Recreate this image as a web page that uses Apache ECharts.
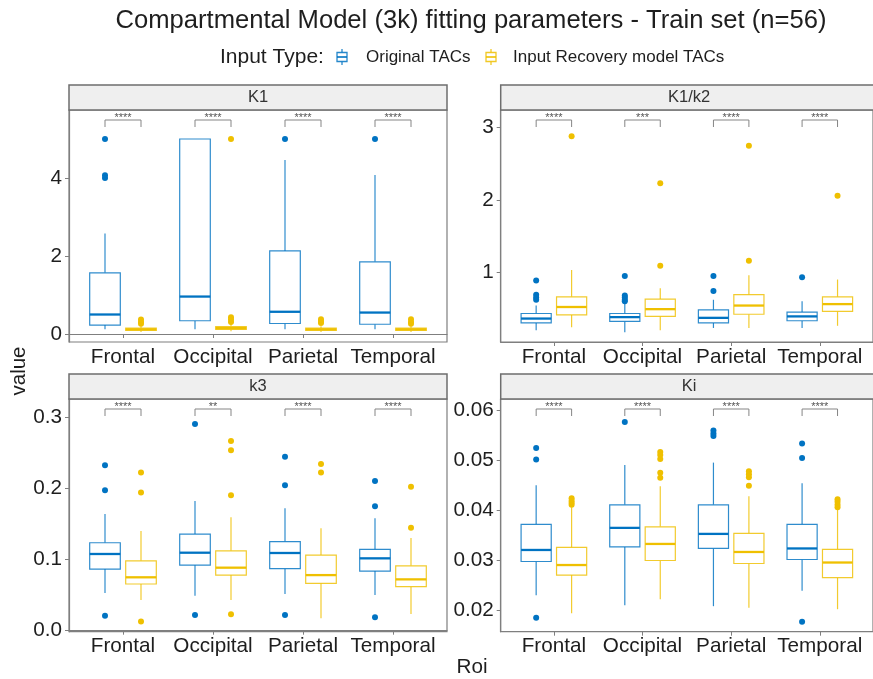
<!DOCTYPE html>
<html>
<head>
<meta charset="utf-8">
<title>Compartmental Model (3k) fitting parameters</title>
<script src="https://cdn.jsdelivr.net/npm/echarts@6.0.0/dist/echarts.min.js"></script>
<style>
  html, body { margin: 0; padding: 0; background: #ffffff; }
  #chart { width: 873px; height: 679px; }
</style>
</head>
<body>
<div id="chart"></div>
<script>
// ---- Data -------------------------------------------------------------
const rois = ['Frontal', 'Occipital', 'Parietal', 'Temporal'];
const groups = ['Original TACs', 'Input Recovery model TACs'];

// Five-number summaries per ROI: [lower whisker, Q1, median, Q3, upper whisker]
const k1Original = [[0.12, 0.23, 0.50, 1.57, 2.58], [0.12, 0.34, 0.96, 5.00, 5.00], [0.12, 0.27, 0.57, 2.13, 4.46], [0.12, 0.25, 0.55, 1.85, 4.08]];
const k1Recovery = [[0.05, 0.09, 0.12, 0.15, 0.20], [0.07, 0.12, 0.15, 0.19, 0.27], [0.05, 0.09, 0.12, 0.15, 0.20], [0.05, 0.09, 0.12, 0.15, 0.20]];
const k1OriginalOutliers = [[5.00, 4.07, 4.00], [], [5.00], [5.00]];
const k1RecoveryOutliers = [[0.37, 0.31, 0.26], [5.00, 0.43, 0.37, 0.31], [0.38, 0.33, 0.28], [0.38, 0.31, 0.26]];
const k1Sig = ['****', '****', '****', '****'];
const k1Ticks = [0, 2, 4];

const ratioOriginal = [[0.20, 0.30, 0.36, 0.43, 0.54], [0.17, 0.32, 0.38, 0.43, 0.58], [0.23, 0.30, 0.37, 0.48, 0.62], [0.23, 0.33, 0.39, 0.45, 0.60]];
const ratioRecovery = [[0.24, 0.41, 0.52, 0.66, 1.03], [0.20, 0.39, 0.49, 0.63, 0.78], [0.23, 0.42, 0.54, 0.69, 0.96], [0.26, 0.46, 0.56, 0.66, 0.90]];
const ratioOriginalOutliers = [[0.885, 0.69, 0.65, 0.62], [0.95, 0.68, 0.65, 0.62, 0.60], [0.95, 0.74], [0.93]];
const ratioRecoveryOutliers = [[2.88], [2.23, 1.09], [2.75, 1.16], [2.06]];
const ratioSig = ['****', '***', '****', '****'];
const ratioTicks = [1, 2, 3];

const k3Original = [[0.053, 0.0865, 0.1076, 0.1234, 0.1637], [0.049, 0.092, 0.1094, 0.1356, 0.182], [0.0515, 0.087, 0.109, 0.125, 0.1716], [0.050, 0.0837, 0.1015, 0.114, 0.1576]];
const k3Recovery = [[0.043, 0.0655, 0.0749, 0.098, 0.140], [0.043, 0.078, 0.0884, 0.112, 0.159], [0.0174, 0.0665, 0.078, 0.106, 0.1436], [0.0234, 0.0617, 0.072, 0.091, 0.130]];
const k3OriginalOutliers = [[0.232, 0.197, 0.021], [0.290, 0.022], [0.244, 0.204, 0.022], [0.210, 0.1745, 0.019]];
const k3RecoveryOutliers = [[0.222, 0.194, 0.013], [0.266, 0.253, 0.190, 0.023], [0.234, 0.222], [0.202, 0.1445]];
const k3Sig = ['****', '**', '****', '****'];
const k3Ticks = [0, 0.1, 0.2, 0.3];

const kiOriginal = [[0.0231, 0.0298, 0.0321, 0.0372, 0.0450], [0.0211, 0.0327, 0.0365, 0.0411, 0.0490], [0.0209, 0.0324, 0.0353, 0.0411, 0.0495], [0.0240, 0.0302, 0.0324, 0.0372, 0.0454]];
const kiRecovery = [[0.0195, 0.0271, 0.0291, 0.0326, 0.0406], [0.0223, 0.0300, 0.0333, 0.0367, 0.0448], [0.0206, 0.0294, 0.0317, 0.0354, 0.0428], [0.0203, 0.0266, 0.0296, 0.0322, 0.0407]];
const kiOriginalOutliers = [[0.0524, 0.0501, 0.0186], [0.0576], [0.0559, 0.0553, 0.0548], [0.0533, 0.0504, 0.0178]];
const kiRecoveryOutliers = [[0.0424, 0.0419, 0.0415, 0.0411], [0.0516, 0.0510, 0.0502, 0.0475, 0.0465], [0.0478, 0.0472, 0.0466, 0.0449], [0.0422, 0.0417, 0.0411, 0.0406]];
const kiSig = ['****', '****', '****', '****'];
const kiTicks = [0.02, 0.03, 0.04, 0.05, 0.06];

// ---- Styling / layout -------------------------------------------------
const FONT = '"Liberation Sans", Arial, Helvetica, sans-serif';
const COLORS = ['#0073C2', '#EFC000'];
const TEXT = '#1e1e1e';
const FRAME = '#7f7f7f';
const DODGE = 0.2;      // horizontal offset of each group from the ROI position
const BOX_HALF = 0.17;  // half box width in ROI units
const STRIP_H = 25;

const panels = [
  { label: 'K1',    orig: k1Original, rec: k1Recovery, origOut: k1OriginalOutliers, recOut: k1RecoveryOutliers, sig: k1Sig, ticks: k1Ticks, min: -0.205, max: 5.744, digits: 0,
    box: { left: 69, top: 110, width: 378, height: 232 } },
  { label: 'K1/k2', orig: ratioOriginal, rec: ratioRecovery, origOut: ratioOriginalOutliers, recOut: ratioRecoveryOutliers, sig: ratioSig, ticks: ratioTicks, min: 0.036, max: 3.244, digits: 0,
    box: { left: 500.7, top: 110, width: 377, height: 232 } },
  { label: 'k3',    orig: k3Original, rec: k3Recovery, origOut: k3OriginalOutliers, recOut: k3RecoveryOutliers, sig: k3Sig, ticks: k3Ticks, min: -0.0014, max: 0.325, digits: 1,
    box: { left: 69, top: 399, width: 378, height: 232.7 } },
  { label: 'Ki',    orig: kiOriginal, rec: kiRecovery, origOut: kiOriginalOutliers, recOut: kiRecoveryOutliers, sig: kiSig, ticks: kiTicks, min: 0.01582, max: 0.06217, digits: 2,
    box: { left: 500.7, top: 399, width: 377, height: 232.7 } }
];

// ---- Renderers ----------------------------------------------------------
function boxRenderer(color) {
  return function (params, api) {
    const x = api.value(0);
    const lo = api.coord([x, api.value(1)]);
    const q1 = api.coord([x, api.value(2)]);
    const md = api.coord([x, api.value(3)]);
    const q3 = api.coord([x, api.value(4)]);
    const hi = api.coord([x, api.value(5)]);
    const hw = api.size([BOX_HALF, 0])[0];
    const cx = md[0];
    const thin = { stroke: color, lineWidth: 1.2, fill: null, opacity: 0.82 };
    return {
      type: 'group',
      children: [
        { type: 'line', shape: { x1: cx, y1: hi[1], x2: cx, y2: q3[1] }, style: thin },
        { type: 'line', shape: { x1: cx, y1: q1[1], x2: cx, y2: lo[1] }, style: thin },
        { type: 'rect', shape: { x: cx - hw, y: q3[1], width: 2 * hw, height: q1[1] - q3[1] },
          style: { fill: '#ffffff', stroke: color, lineWidth: 1.2, strokeOpacity: 0.82 } },
        { type: 'line', shape: { x1: cx - hw, y1: md[1], x2: cx + hw, y2: md[1] },
          style: { stroke: color, lineWidth: 2.3 } }
      ]
    };
  };
}

function bracketRenderer(sig) {
  return function (params, api) {
    const c = api.value(0);
    const a = api.coord([c - DODGE, api.value(1)]);
    const b = api.coord([c + DODGE, api.value(1)]);
    const top = params.coordSys.y + 10;
    return {
      type: 'group',
      children: [
        { type: 'polyline', shape: { points: [[a[0], top + 7], [a[0], top], [b[0], top], [b[0], top + 7]] },
          style: { stroke: '#858585', lineWidth: 1, fill: null } },
        { type: 'text', x: (a[0] + b[0]) / 2, y: top - 2.5,
          style: { text: sig[params.dataIndex], fontSize: 11, fontFamily: FONT, fill: '#555555',
                   align: 'center', verticalAlign: 'middle' } }
      ]
    };
  };
}

// ---- Option assembly ----------------------------------------------------
const grids = [], xAxes = [], yAxes = [], series = [], graphics = [];

panels.forEach((p, i) => {
  grids.push(Object.assign({ show: true, borderColor: FRAME, borderWidth: 1.2, backgroundColor: '#ffffff',
                             containLabel: false }, p.box));

  xAxes.push({
    type: 'value', gridIndex: i, min: 0.4, max: 4.6,
    splitLine: { show: false },
    axisLine: { show: true, lineStyle: { color: FRAME, width: 1.2 } },
    axisTick: { show: true, length: 4, lineStyle: { color: FRAME }, customValues: rois.map((r, k) => k + 1) },
    axisLabel: { show: true, margin: 4.5, fontSize: 20.7, fontFamily: FONT, color: TEXT,
                 customValues: rois.map((r, k) => k + 1),
                 formatter: v => rois[Math.round(v) - 1] }
  });

  yAxes.push({
    type: 'value', gridIndex: i, min: p.min, max: p.max,
    splitLine: { show: false },
    axisLine: { show: true, lineStyle: { color: FRAME, width: 1.2 } },
    axisTick: { show: true, length: 4, lineStyle: { color: FRAME }, customValues: p.ticks },
    axisLabel: { show: true, margin: 7, fontSize: 20.7, fontFamily: FONT, color: TEXT,
                 customValues: p.ticks, formatter: v => Number(v).toFixed(p.digits) }
  });

  [p.orig, p.rec].forEach((summ, g) => {
    const off = g === 0 ? -DODGE : DODGE;
    series.push({
      type: 'custom', name: groups[g], xAxisIndex: i, yAxisIndex: i, clip: false, z: 2,
      renderItem: boxRenderer(COLORS[g]),
      encode: { x: 0, y: [1, 2, 3, 4, 5] },
      data: summ.map((s, k) => [k + 1 + off].concat(s)),
      silent: true
    });
  });

  [p.origOut, p.recOut].forEach((outs, g) => {
    const off = g === 0 ? -DODGE : DODGE;
    const pts = [];
    outs.forEach((list, k) => list.forEach(v => pts.push([k + 1 + off, v])));
    series.push({
      type: 'scatter', name: groups[g], xAxisIndex: i, yAxisIndex: i, z: 3,
      symbol: 'circle', symbolSize: 6, itemStyle: { color: COLORS[g], opacity: 1 },
      data: pts, silent: true, animation: false
    });
  });

  series.push({
    type: 'custom', xAxisIndex: i, yAxisIndex: i, clip: false, z: 4, silent: true,
    renderItem: bracketRenderer(p.sig),
    encode: { x: 0, y: 1 },
    data: rois.map((r, k) => [k + 1, p.max])
  });

  // facet strip
  graphics.push({
    type: 'rect', z: 10,
    shape: { x: p.box.left, y: p.box.top - STRIP_H, width: p.box.width, height: STRIP_H },
    style: { fill: '#efefef', stroke: '#6e6e6e', lineWidth: 1.5 }
  });
  graphics.push({
    type: 'text', z: 11,
    x: p.box.left + p.box.width / 2, y: p.box.top - STRIP_H / 2,
    style: { text: p.label, fontSize: 16.5, fontFamily: FONT, fill: '#333333', align: 'center', verticalAlign: 'middle' }
  });
});

// legend key glyph (a tiny box plot)
function legendKey(cx, cy, color) {
  return {
    type: 'group', children: [
      { type: 'line', shape: { x1: cx, y1: cy - 8, x2: cx, y2: cy - 4.5 }, style: { stroke: color, lineWidth: 1.3, opacity: 0.85 } },
      { type: 'line', shape: { x1: cx, y1: cy + 4.5, x2: cx, y2: cy + 8 }, style: { stroke: color, lineWidth: 1.3, opacity: 0.85 } },
      { type: 'rect', shape: { x: cx - 5, y: cy - 4.5, width: 10, height: 9 }, style: { fill: '#ffffff', stroke: color, lineWidth: 1.3, strokeOpacity: 0.85 } },
      { type: 'line', shape: { x1: cx - 5, y1: cy, x2: cx + 5, y2: cy }, style: { stroke: color, lineWidth: 1.6 } }
    ]
  };
}

graphics.push(
  { type: 'text', x: 471, y: 21,
    style: { text: 'Compartmental Model (3k) fitting parameters - Train set (n=56)', fontSize: 25.6, fontFamily: FONT,
             fill: TEXT, align: 'center', verticalAlign: 'middle' } },
  { type: 'text', x: 220, y: 57,
    style: { text: 'Input Type:', fontSize: 21, fontFamily: FONT, fill: TEXT, align: 'left', verticalAlign: 'middle' } },
  legendKey(342, 57, COLORS[0]),
  { type: 'text', x: 366, y: 57,
    style: { text: groups[0], fontSize: 17, fontFamily: FONT, fill: TEXT, align: 'left', verticalAlign: 'middle' } },
  legendKey(491, 57, COLORS[1]),
  { type: 'text', x: 513, y: 57,
    style: { text: groups[1], fontSize: 17, fontFamily: FONT, fill: TEXT, align: 'left', verticalAlign: 'middle' } },
  { type: 'text', x: 19.5, y: 371, rotation: Math.PI / 2,
    style: { text: 'value', fontSize: 20.5, fontFamily: FONT, fill: TEXT, align: 'center', verticalAlign: 'middle' } },
  { type: 'text', x: 472, y: 667,
    style: { text: 'Roi', fontSize: 20.7, fontFamily: FONT, fill: TEXT, align: 'center', verticalAlign: 'middle' } }
);

const chart = echarts.init(document.getElementById('chart'), null, { renderer: 'canvas' });
chart.setOption({
  animation: false,
  backgroundColor: '#ffffff',
  textStyle: { fontFamily: FONT },
  grid: grids,
  xAxis: xAxes,
  yAxis: yAxes,
  series: series,
  graphic: { elements: graphics }
});
</script>
</body>
</html>
